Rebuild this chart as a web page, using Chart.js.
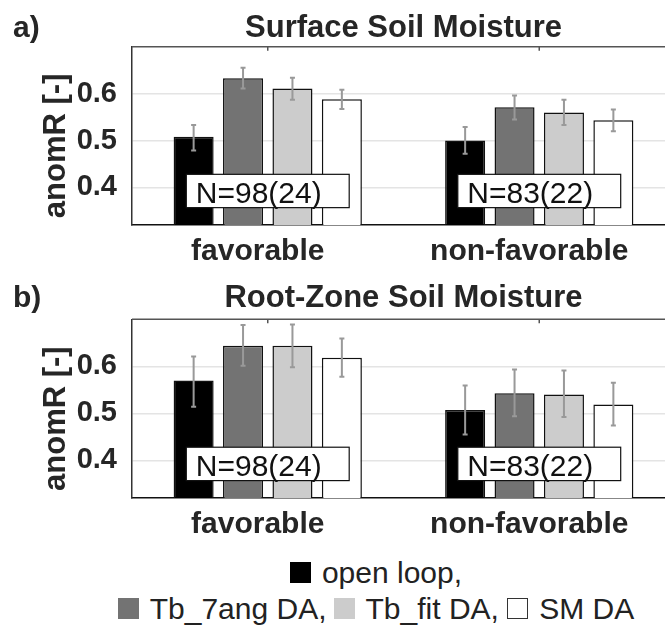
<!DOCTYPE html>
<html>
<head>
<meta charset="utf-8">
<script src="https://cdn.jsdelivr.net/npm/chart.js@4.4.0/dist/chart.umd.min.js"></script>
<style>
  html, body { margin: 0; padding: 0; background: #fff; overflow: hidden; }
  #wrap { position: relative; width: 665px; height: 627px; overflow: hidden; }
  canvas { position: absolute; left: 0; }
  #chartA { top: 0; }
  #chartB { top: 270px; }
  #legend {
    position: absolute; left: 88px; width: 576px; top: 555px;
    text-align: center; white-space: nowrap;
    font: 30px "Liberation Sans", Arial, sans-serif; line-height: 36px; color: #222;
  }
  .sq { display: inline-block; width: 21px; height: 21px; margin-right: 11px; box-sizing: border-box; }
</style>
</head>
<body>
<div id="wrap">
  <canvas id="chartA" width="680" height="270"></canvas>
  <canvas id="chartB" width="680" height="270"></canvas>
  <div id="legend"></div>
</div>
<script>
const categories = ['favorable', 'non-favorable'];
const seriesNames = ['open loop', 'Tb_7ang DA', 'Tb_fit DA', 'SM DA'];
const yTicks = [0.4, 0.5, 0.6];
const sampleLabels = ['N=98(24)', 'N=83(22)'];

// a) surface soil moisture, one array per series: [favorable, non-favorable]
const surfOpenLoop = [0.508, 0.500];
const surfTb7ang   = [0.633, 0.571];
const surfTbFit    = [0.611, 0.560];
const surfSM       = [0.588, 0.543];
const surfLow  = [[0.479, 0.472], [0.611, 0.545], [0.587, 0.533], [0.567, 0.520]];
const surfHigh = [[0.533, 0.529], [0.655, 0.596], [0.634, 0.587], [0.608, 0.566]];

// b) root-zone soil moisture
const rootOpenLoop = [0.570, 0.507];
const rootTb7ang   = [0.644, 0.543];
const rootTbFit    = [0.644, 0.540];
const rootSM       = [0.618, 0.519];
const rootLow  = [[0.514, 0.455], [0.601, 0.494], [0.598, 0.492], [0.578, 0.474]];
const rootHigh = [[0.621, 0.559], [0.688, 0.593], [0.689, 0.591], [0.659, 0.565]];

const barColors = ['#000000', '#737373', '#cccccc', '#ffffff'];
const FONT = '"Liberation Sans", Arial, sans-serif';
const TEXT = '#262626';

// error bars drawn through the chart's own scales
const errorBars = {
  id: 'errorBars',
  afterDatasetsDraw(chart, args, o) {
    const ctx = chart.ctx, y = chart.scales.y;
    ctx.save();
    ctx.strokeStyle = '#999';
    ctx.lineWidth = 2;
    chart.data.datasets.forEach((ds, i) => {
      chart.getDatasetMeta(i).data.forEach((bar, j) => {
        const lo = y.getPixelForValue(o.low[i][j]);
        const hi = y.getPixelForValue(o.high[i][j]);
        ctx.beginPath();
        ctx.moveTo(bar.x, lo); ctx.lineTo(bar.x, hi);
        ctx.moveTo(bar.x - 2.5, lo); ctx.lineTo(bar.x + 2.5, lo);
        ctx.moveTo(bar.x - 2.5, hi); ctx.lineTo(bar.x + 2.5, hi);
        ctx.stroke();
      });
    });
    // N boxes
    const x = chart.scales.x;
    const step = x.getPixelForValue(1) - x.getPixelForValue(0);
    ctx.font = '30px ' + FONT;
    ctx.textBaseline = 'alphabetic';
    ctx.textAlign = 'left';
    sampleLabels.forEach((txt, i) => {
      const l = x.getPixelForValue(i) - 0.3 * step;
      const r = x.getPixelForValue(i) + 0.3 * step;
      const t = y.getPixelForValue(0.428);
      const b = y.getPixelForValue(0.357);
      ctx.fillStyle = '#fff';
      ctx.fillRect(l, t, r - l, b - t);
      ctx.strokeStyle = '#111';
      ctx.lineWidth = 1.2;
      ctx.strokeRect(l, t, r - l, b - t);
      ctx.fillStyle = '#111';
      ctx.fillText(txt, l + 9.5, b - 4.5);
    });
    ctx.restore();
  }
};

const decorations = {
  id: 'decorations',
  afterDraw(chart, args, o) {
    const ctx = chart.ctx, a = chart.chartArea;
    ctx.save();
    // top frame and tick marks
    ctx.strokeStyle = '#555';
    ctx.lineWidth = 1.5;
    ctx.beginPath();
    ctx.moveTo(a.left, a.top); ctx.lineTo(a.right, a.top);
    categories.forEach((c, i) => {
      const px = chart.scales.x.getPixelForValue(i);
      ctx.moveTo(px, a.top); ctx.lineTo(px, a.top + 4);
    });
    ctx.stroke();
    ctx.fillStyle = TEXT;
    ctx.textBaseline = 'alphabetic';
    ctx.font = 'bold 31px ' + FONT;
    ctx.textAlign = 'center';
    ctx.fillText(o.title, (a.left + a.right) / 2, o.titleY);
    ctx.textAlign = 'left';
    ctx.font = 'bold 30px ' + FONT;
    ctx.fillText(o.panel, 13, o.titleY);
    // y axis title
    ctx.translate(65, (a.top + a.bottom) / 2 + 10);
    ctx.rotate(-Math.PI / 2);
    ctx.textAlign = 'center';
    ctx.font = 'bold 31px ' + FONT;
    ctx.fillText('anomR [-]', 0, 0);
    ctx.restore();
  }
};

function buildChart(id, p) {
  const datasets = seriesNames.map((name, i) => ({
    label: name,
    data: p.values[i],
    backgroundColor: barColors[i],
    borderColor: '#111',
    borderWidth: 1.5,
    barPercentage: 0.81,
    categoryPercentage: 0.728
  }));
  return new Chart(document.getElementById(id), {
    type: 'bar',
    data: { labels: categories, datasets },
    options: {
      responsive: false,
      animation: false,
      events: [],
      layout: { padding: { top: p.top, right: 5, left: 0, bottom: 0 } },
      plugins: {
        legend: { display: false },
        tooltip: { enabled: false },
        errorBars: { low: p.low, high: p.high },
        decorations: { title: p.title, panel: p.panel, titleY: p.titleY }
      },
      scales: {
        x: {
          grid: { display: false, drawTicks: false },
          border: { display: true, color: '#111', width: 1.5 },
          ticks: { font: { family: FONT, size: 30, weight: 'bold' }, color: TEXT, padding: 9, labelOffset: -10 },
          afterFit: s => { s.height = p.xHeight; }
        },
        y: {
          min: 0.32,
          max: 0.70,
          afterBuildTicks: s => { s.ticks = yTicks.map(v => ({ value: v })); },
          grid: { color: '#e4e4e4', lineWidth: 1.5, drawTicks: false },
          border: { display: true, color: '#333', width: 1.5 },
          ticks: {
            font: { family: FONT, size: 29, weight: 'bold' }, color: TEXT, padding: 15,
            callback: v => v.toFixed(1)
          },
          afterFit: s => { s.width = 132; }
        }
      }
    },
    plugins: [errorBars, decorations]
  });
}

buildChart('chartA', {
  values: [surfOpenLoop, surfTb7ang, surfTbFit, surfSM],
  low: surfLow, high: surfHigh,
  title: 'Surface Soil Moisture', panel: 'a)', titleY: 37,
  top: 46.7, xHeight: 45
});

buildChart('chartB', {
  values: [rootOpenLoop, rootTb7ang, rootTbFit, rootSM],
  low: rootLow, high: rootHigh,
  title: 'Root-Zone Soil Moisture', panel: 'b)', titleY: 37,
  top: 49.3, xHeight: 42
});

// legend, two lines as in the figure
function sq(i) {
  const border = i === 3 ? 'border:1.5px solid #333;' : '';
  return '<span class="sq" style="background:' + barColors[i] + ';' + border + '"></span>';
}
document.getElementById('legend').innerHTML =
  '<div>' + sq(0) + seriesNames[0] + ',</div>' +
  '<div>' + sq(1) + seriesNames[1] + ',<span style="margin-left:7px"></span>' +
  sq(2) + seriesNames[2] + ', ' + sq(3) + seriesNames[3] + '</div>';
</script>
</body>
</html>
